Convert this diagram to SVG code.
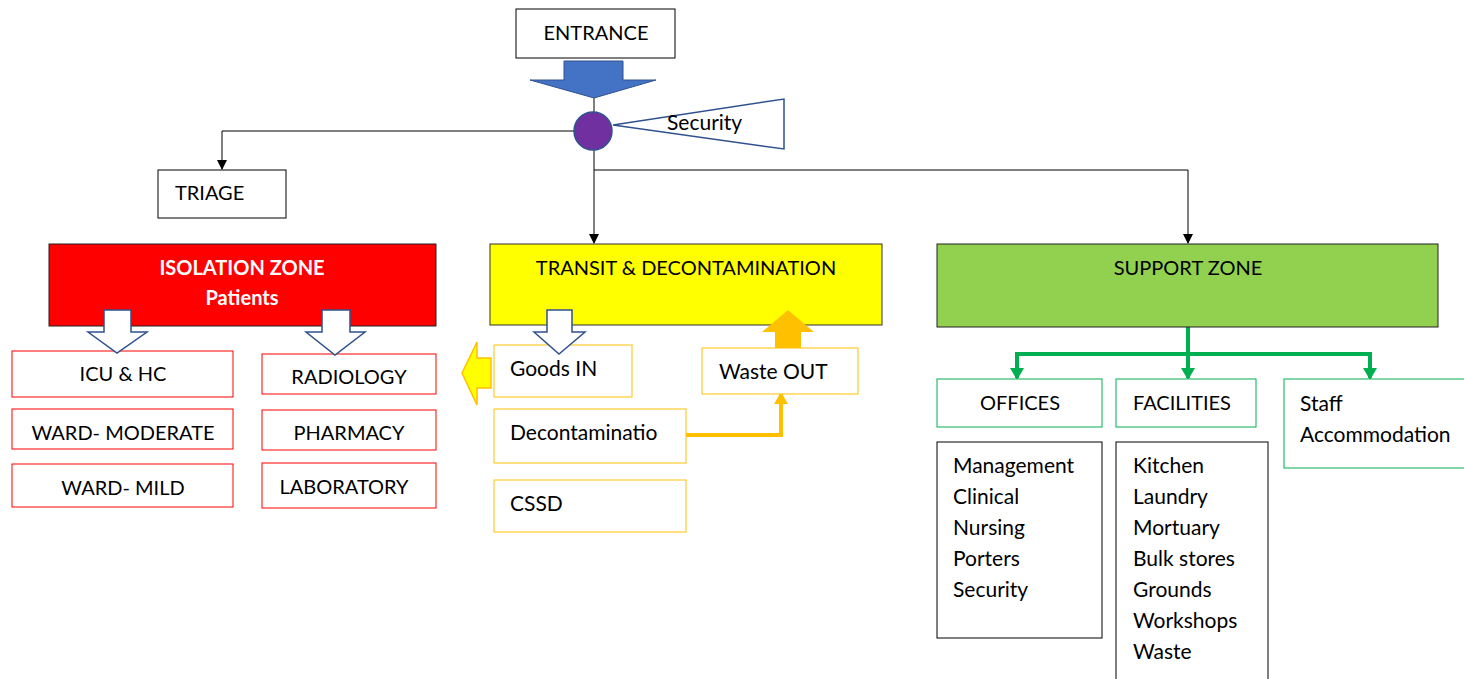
<svg xmlns="http://www.w3.org/2000/svg" width="1464" height="679" viewBox="0 0 1464 679">
<style>
text{font-family:Lato,"Liberation Sans",sans-serif;font-size:20px;fill:#000}
.l{font-size:21px}
.c{text-anchor:middle}
.wb{fill:#fff;font-weight:bold}
.bx{fill:#fff;stroke:#000;stroke-width:1}
.rb{fill:#fff;stroke:#ff0000;stroke-width:1}
.yb{fill:#fff;stroke:#ffc000;stroke-width:1}
.gb{fill:#fff;stroke:#00b050;stroke-width:1}
.ln{fill:none;stroke:#000;stroke-width:1}
.gl{fill:none;stroke:#00b050;stroke-width:4}
.ol{fill:none;stroke:#ffc000;stroke-width:4}
.ha{fill:#fff;stroke:#2f528f;stroke-width:1.5}
</style>
<defs>
<marker id="ab" markerWidth="10" markerHeight="10" refX="9" refY="5" orient="auto" markerUnits="userSpaceOnUse"><path d="M0,0 L10,5 L0,10 Z" fill="#000"/></marker>
<marker id="ag" markerWidth="14" markerHeight="14" refX="10" refY="7" orient="auto" markerUnits="userSpaceOnUse"><path d="M0,0 L12,7 L0,14 Z" fill="#00b050"/></marker>
<marker id="ao" markerWidth="14" markerHeight="14" refX="10" refY="7" orient="auto" markerUnits="userSpaceOnUse"><path d="M0,0 L12,7 L0,14 Z" fill="#ffc000"/></marker>
</defs>
<g id="connectors">
<line class="ln" x1="594" y1="98" x2="594" y2="112"/>
<polyline class="ln" points="574,131 222,131 222,169" stroke="#555" marker-end="url(#ab)"/>
<line class="ln" x1="594" y1="150" x2="594" y2="243" marker-end="url(#ab)"/>
<polyline class="ln" points="594,170 1188,170 1188,243" marker-end="url(#ab)"/>
<polyline class="gl" points="1188,327 1188,377"/>
<line class="gl" x1="1188" y1="354" x2="1188" y2="378" marker-end="url(#ag)"/>
<polyline class="gl" points="1017,378 1017,354 1370,354 1370,378" marker-end="url(#ag)"/>
<line class="gl" x1="1017" y1="360" x2="1017" y2="378" marker-end="url(#ag)"/>
<polyline class="ol" points="686,435 781,435 781,394" marker-end="url(#ao)"/>
</g>
<g id="entrance">
<rect class="bx" x="516" y="9" width="159" height="49"/>
<text class="c" x="596" y="40">ENTRANCE</text>
</g>
<g id="entrance-arrow">
<path d="M564,61 L623,61 L623,80 L656,80 L594,98 L530,80 L564,80 Z" fill="#4472c4" stroke="#2f528f" stroke-width="1"/>
</g>
<g id="security">
<polygon points="613,125 784,99 784,149" fill="#fff" stroke="#2f528f" stroke-width="1.5"/>
<text class="l" x="667" y="130">Security</text>
</g>
<g id="checkpoint">
<circle cx="593" cy="131" r="19" fill="#7030a0" stroke="#2f528f" stroke-width="1.5"/>
</g>
<g id="triage">
<rect class="bx" x="158" y="170" width="128" height="48"/>
<text x="175" y="200">TRIAGE</text>
</g>
<g id="isolation-zone">
<rect x="49" y="244" width="387" height="82" fill="#ff0000" stroke="#222" stroke-width="1"/>
<text class="c wb" x="242" y="275">ISOLATION ZONE</text>
<text class="c wb" x="242" y="305">Patients</text>
</g>
<g id="icu">
<rect class="rb" x="12" y="351" width="221" height="46"/>
<text class="c" x="123" y="381">ICU &amp; HC</text>
</g>
<g id="ward-moderate">
<rect class="rb" x="12" y="409" width="221" height="40"/>
<text class="c" x="123" y="440">WARD- MODERATE</text>
</g>
<g id="ward-mild">
<rect class="rb" x="12" y="464" width="221" height="43"/>
<text class="c" x="123" y="495">WARD- MILD</text>
</g>
<g id="radiology">
<rect class="rb" x="262" y="354" width="174" height="40"/>
<text class="c" x="349" y="384">RADIOLOGY</text>
</g>
<g id="pharmacy">
<rect class="rb" x="262" y="410" width="174" height="40"/>
<text class="c" x="349" y="440">PHARMACY</text>
</g>
<g id="laboratory">
<rect class="rb" x="262" y="463" width="174" height="45"/>
<text class="c" x="344" y="494">LABORATORY</text>
</g>
<g id="iso-arrows">
<path class="ha" d="M104,310 L131,310 L131,332 L147,332 L117,353 L88,332 L104,332 Z"/>
<path class="ha" d="M322,310 L350,310 L350,332 L365,332 L335,355 L306,332 L322,332 Z"/>
</g>
<g id="transit">
<rect x="490" y="244" width="392" height="81" fill="#ffff00" stroke="#333" stroke-width="1"/>
<text class="c" x="686" y="275">TRANSIT &amp; DECONTAMINATION</text>
</g>
<g id="goods-in">
<rect class="yb" x="494" y="345" width="138" height="52"/>
<text class="l" x="510" y="376">Goods IN</text>
</g>
<g id="goods-arrow">
<path class="ha" d="M547,310 L572,310 L572,332 L585,332 L559,354 L534,332 L547,332 Z"/>
</g>
<g id="goods-out-arrow">
<path d="M491,358 L477,358 L477,342 L462,373 L477,405 L477,388 L491,388 Z" fill="#ffff00" stroke="#ffc000" stroke-width="1.5"/>
</g>
<g id="waste-out">
<rect class="yb" x="702" y="348" width="156" height="46"/>
<text class="l" x="719" y="379">Waste OUT</text>
</g>
<g id="waste-arrow">
<path d="M775,348 L801,348 L801,332 L814,332 L788,310 L762,332 L775,332 Z" fill="#ffc000"/>
</g>
<g id="decontamination">
<rect class="yb" x="494" y="409" width="192" height="54"/>
<text class="l" x="510" y="440">Decontaminatio</text>
</g>
<g id="cssd">
<rect class="yb" x="494" y="480" width="192" height="52"/>
<text class="l" x="510" y="511">CSSD</text>
</g>
<g id="support-zone">
<rect x="937" y="244" width="501" height="83" fill="#92d050" stroke="#222" stroke-width="1"/>
<text class="c" x="1188" y="275">SUPPORT ZONE</text>
</g>
<g id="offices">
<rect class="gb" x="937" y="379" width="165" height="48"/>
<text class="c" x="1020" y="410">OFFICES</text>
</g>
<g id="facilities">
<rect class="gb" x="1116" y="379" width="140" height="48"/>
<text x="1133" y="410">FACILITIES</text>
</g>
<g id="staff-accommodation">
<rect class="gb" x="1284" y="379" width="190" height="89"/>
<text class="l" x="1300" y="411">Staff</text>
<text class="l" x="1300" y="442">Accommodation</text>
</g>
<g id="offices-list">
<rect class="bx" x="937" y="442" width="165" height="196"/>
<text class="l" x="953" y="473">Management</text>
<text class="l" x="953" y="504">Clinical</text>
<text class="l" x="953" y="535">Nursing</text>
<text class="l" x="953" y="566">Porters</text>
<text class="l" x="953" y="597">Security</text>
</g>
<g id="facilities-list">
<rect class="bx" x="1116" y="442" width="152" height="250"/>
<text class="l" x="1133" y="473">Kitchen</text>
<text class="l" x="1133" y="504">Laundry</text>
<text class="l" x="1133" y="535">Mortuary</text>
<text class="l" x="1133" y="566">Bulk stores</text>
<text class="l" x="1133" y="597">Grounds</text>
<text class="l" x="1133" y="628">Workshops</text>
<text class="l" x="1133" y="659">Waste</text>
</g>
</svg>
